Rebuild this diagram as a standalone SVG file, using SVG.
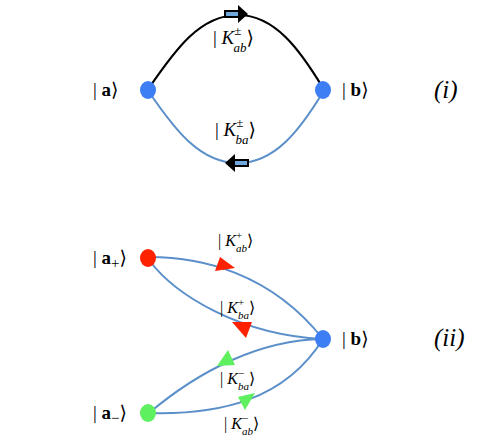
<svg xmlns="http://www.w3.org/2000/svg" width="491" height="436" viewBox="0 0 491 436">
<style>
text{font-family:"Liberation Serif","DejaVu Serif",serif;fill:#000}
.big{font-size:19px}
.mid{font-size:19px}
.sm{font-size:16px}
.it{font-style:italic}
.bf{font-weight:bold}
.edge{fill:none;stroke:#5b8fc9;stroke-width:2}
.blk{fill:none;stroke:#000;stroke-width:2.2}
.lbl{font-size:25px;font-style:italic}
</style>
<rect width="491" height="436" fill="#fff"/>
<g id="connectors">
  <path class="blk" d="M149,88 C175,50 200,15 238,15 C275,15 300,50 323,88"/>
  <path class="edge" d="M149,92 C175,130 200,163 238,163 C275,163 300,130 323,92"/>
  <g id="arrow-top">
    <rect x="225" y="11" width="14" height="6" fill="#6fa8dc" stroke="#000" stroke-width="2"/>
    <polygon points="238,5 248,14 238,23" fill="#000"/>
  </g>
  <g id="arrow-bottom">
    <rect x="234" y="160" width="14" height="6" fill="#6fa8dc" stroke="#000" stroke-width="2"/>
    <polygon points="235,154 225,163 235,172" fill="#000"/>
  </g>
  <path class="edge" d="M149,257 C200,257 270,272 323,339"/>
  <path class="edge" d="M149,260 C175,295 240,335 323,339"/>
  <path class="edge" d="M323,339 C260,340 200,370 149,413"/>
  <path class="edge" d="M149,413 C220,415 285,400 323,339"/>
  <polygon points="215,271 220,257 235,268" fill="#ff2200"/>
  <polygon points="232,322 252,322 246,338" fill="#ff2200"/>
  <polygon points="217,366 228,350 235,365" fill="#5ef05e"/>
  <polygon points="238,397 255,393 245,410" fill="#5ef05e"/>
</g>
<g id="edge-labels">
  <text class="mid" x="213" y="44">| <tspan class="it">K</tspan><tspan font-size="13" dy="-9">±</tspan><tspan class="it" font-size="13" dx="-8" dy="17">ab</tspan><tspan dy="-8">⟩</tspan></text>
  <text class="mid" x="215" y="136">| <tspan class="it">K</tspan><tspan font-size="13" dy="-9">±</tspan><tspan class="it" font-size="13" dx="-8" dy="17">ba</tspan><tspan dy="-8">⟩</tspan></text>
  <text class="sm" x="218" y="246">| <tspan class="it">K</tspan><tspan font-size="11" dy="-7">+</tspan><tspan class="it" font-size="11" dx="-6" dy="13">ab</tspan><tspan dy="-6">⟩</tspan></text>
  <text class="sm" x="220" y="313">| <tspan class="it">K</tspan><tspan font-size="11" dy="-7">+</tspan><tspan class="it" font-size="11" dx="-6" dy="13">ba</tspan><tspan dy="-6">⟩</tspan></text>
  <text class="sm" x="220" y="384">| <tspan class="it">K</tspan><tspan font-size="11" dy="-7">−</tspan><tspan class="it" font-size="11" dx="-6" dy="13">ba</tspan><tspan dy="-6">⟩</tspan></text>
  <text class="sm" x="224" y="429">| <tspan class="it">K</tspan><tspan font-size="11" dy="-7">−</tspan><tspan class="it" font-size="11" dx="-6" dy="13">ab</tspan><tspan dy="-6">⟩</tspan></text>
</g>
<g id="node-a">
  <ellipse cx="148" cy="90" rx="8" ry="9" fill="#3d7ef5"/>
  <text class="big" x="93" y="96">| <tspan class="bf">a</tspan>⟩</text>
</g>
<g id="node-b">
  <ellipse cx="323" cy="90" rx="8" ry="9" fill="#3d7ef5"/>
  <text class="big" x="342" y="96">| <tspan class="bf">b</tspan>⟩</text>
</g>
<g id="node-a-plus">
  <ellipse cx="148" cy="258" rx="8" ry="9" fill="#ff2200"/>
  <text class="big" x="93" y="264">| <tspan class="bf">a</tspan><tspan font-size="15" dy="4">+</tspan><tspan dy="-4">⟩</tspan></text>
</g>
<g id="node-b2">
  <ellipse cx="323" cy="339" rx="8" ry="9" fill="#3d7ef5"/>
  <text class="big" x="342" y="345">| <tspan class="bf">b</tspan>⟩</text>
</g>
<g id="node-a-minus">
  <ellipse cx="148" cy="413" rx="8" ry="9" fill="#5ef05e"/>
  <text class="big" x="93" y="419">| <tspan class="bf">a</tspan><tspan font-size="15" dy="4">−</tspan><tspan dy="-4">⟩</tspan></text>
</g>
<text class="lbl" x="434" y="98">(i)</text>
<text class="lbl" x="434" y="346">(ii)</text>
</svg>
